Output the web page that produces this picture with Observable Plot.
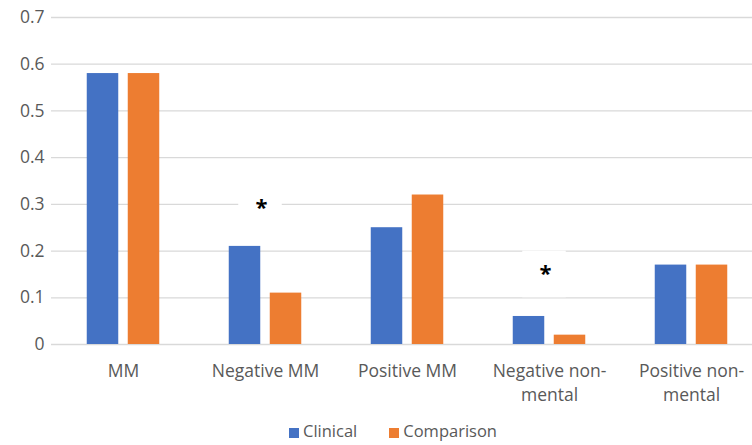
<!DOCTYPE html>
<html><head><meta charset="utf-8">
<script src="https://cdn.jsdelivr.net/npm/d3@7"></script>
<script src="https://cdn.jsdelivr.net/npm/@observablehq/plot@0.6"></script>
<style>
body{margin:0;background:#fff;font-family:"Open Sans",sans-serif;overflow:hidden}
#chart svg{display:block}
#legend{display:flex;justify-content:center;gap:32px;font-size:16.5px;line-height:22px;color:#595959;height:24px;align-items:center;margin-left:34px;padding-top:1px}
#legend span.sw{display:inline-block;width:10px;height:10px;margin-right:4px;vertical-align:-1px}
</style></head><body>
<div id="chart"></div>
<div id="legend"></div>
<script>
const categories = ["MM","Negative MM","Positive MM","Negative non-mental","Positive non-mental"];
const tickLabels = ["MM","Negative MM","Positive MM","Negative non-\nmental","Positive non-\nmental"];
const series = ["Clinical","Comparison"];
const clinical = [0.58,0.21,0.25,0.06,0.17];
const comparison = [0.58,0.11,0.32,0.02,0.17];
const colors = ["#4472C4","#ED7D31"];
const yTicks = [0,0.1,0.2,0.3,0.4,0.5,0.6,0.7];
// significance markers: category, box bottom/top (value units), star position
const sigCats = ["Negative MM","Negative non-mental"];
const sigBoxLo = [0.285,0.1];
const sigBoxHi = [0.315,0.2];
const sigStar = [0.3,0.16];

const data = [];
categories.forEach((c,i)=>{
  data.push({cat:c, series:series[0], v:clinical[i]});
  data.push({cat:c, series:series[1], v:comparison[i]});
});
const sig = sigCats.map((c,i)=>({cat:c, lo:sigBoxLo[i], hi:sigBoxHi[i], s:sigStar[i]}));

const W=752, H=418;
const step = 142.5;
const left = 50.75;
const plot = Plot.plot({
  width:W, height:H,
  marginLeft:51, marginRight:0, marginTop:17, marginBottom:74,
  style:{fontFamily:"'Open Sans', sans-serif", fontSize:"17.5px", color:"#595959", background:"#fff"},
  x:{domain:categories, range:[left, left+step*categories.length], padding:0},
  y:{domain:[0,0.7], label:null},
  color:{domain:series, range:colors},
  marks:[
    Plot.ruleY(yTicks,{stroke:"#d9d9d9", strokeWidth:1.3}),
    Plot.barY(sig,{x:"cat", y1:"lo", y2:"hi", fill:"white", insetLeft:step/2-27, insetRight:step/2-17}),
    Plot.barY(data.filter(d=>d.series===series[0]),{x:"cat", y:"v", fill:colors[0], insetLeft:step/2-36.5, insetRight:step/2+4.5}),
    Plot.barY(data.filter(d=>d.series===series[1]),{x:"cat", y:"v", fill:colors[1], insetLeft:step/2+4.5, insetRight:step/2-36.5}),
    Plot.text(sig,{x:"cat", y:"s", text:()=>"*", dx:-4, dy:4, fontSize:22, fontWeight:"bold", fill:"#000"}),
    Plot.axisY({ticks:yTicks, tickSize:0, tickPadding:7, tickFormat:d=>d===0?"0":d3.format(".1f")(d), fontSize:17.5, fill:"#595959", label:null}),
    Plot.axisX({tickSize:0, tickPadding:15, tickFormat:(d,i)=>tickLabels[categories.indexOf(d)], fontSize:17.5, lineHeight:1.38, fill:"#595959", label:null})
  ]
});
document.getElementById("chart").appendChild(plot);
const lg = document.getElementById("legend");
series.forEach((s,i)=>{
  const e=document.createElement("div");
  e.innerHTML=`<span class="sw" style="background:${colors[i]}"></span>${s}`;
  lg.appendChild(e);
});
</script>
</body></html>
